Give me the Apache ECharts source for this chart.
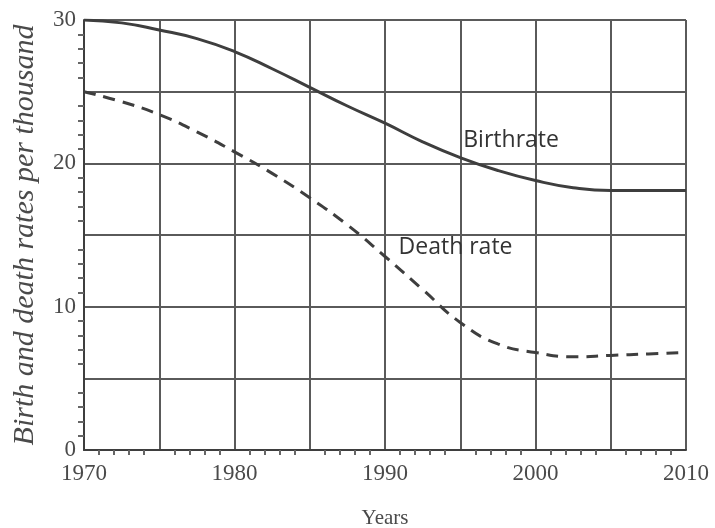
<!DOCTYPE html>
<html>
<head>
<meta charset="utf-8">
<script src="https://cdn.jsdelivr.net/npm/echarts@6/dist/echarts.min.js"></script>
<style>
html,body{margin:0;padding:0;background:#fff;}
#chart{width:715px;height:528px;}
</style>
</head>
<body>
<div id="chart"></div>
<script>
const years = [1970, 1972.5, 1975, 1977.5, 1980, 1982.5, 1985, 1987.5, 1990, 1992.5, 1995, 1997.5, 2000, 2002.5, 2005, 2007.5, 2010];
const birthRate = [30, 29.8, 29.3, 28.7, 27.8, 26.6, 25.3, 24.0, 22.8, 21.5, 20.4, 19.5, 18.8, 18.3, 18.1, 18.1, 18.1];
const deathRate = [25, 24.3, 23.4, 22.2, 20.8, 19.3, 17.6, 15.7, 13.5, 11.2, 8.9, 7.4, 6.8, 6.5, 6.6, 6.7, 6.8];
const xTicks = [1970, 1980, 1990, 2000, 2010];
const yTicks = [0, 10, 20, 30];
const labelBirth = 'Birthrate';
const labelDeath = 'Death rate';
const xTitle = 'Years';
const yTitle = 'Birth and death rates per thousand';

const chart = echarts.init(document.getElementById('chart'));
const gridCol = '#5a5a5a';
const lineCol = '#3e3e3e';
const textCol = '#4a4a4a';
chart.setOption({
  backgroundColor: '#ffffff',
  animation: false,
  grid: {left: 84, right: 29, top: 20, bottom: 78, containLabel: false, outerBoundsMode: 'none'},
  xAxis: {
    type: 'value', min: 1970, max: 2010, interval: 5,
    name: xTitle, nameLocation: 'middle', nameGap: 58,
    nameTextStyle: {fontFamily: 'Liberation Serif', fontSize: 21, color: textCol},
    axisLine: {show: true, lineStyle: {color: lineCol, width: 2}},
    axisTick: {show: false},
    minorTick: {show: true, splitNumber: 5, length: 5, lineStyle: {color: '#666', width: 2}},
    splitLine: {show: true, lineStyle: {color: gridCol, width: 2}},
    axisLabel: {
      margin: 12, fontFamily: 'Liberation Serif', fontSize: 23, color: textCol,
      formatter: v => xTicks.includes(v) ? String(v) : ''
    }
  },
  yAxis: {
    type: 'value', min: 0, max: 30, interval: 5,
    name: yTitle, nameLocation: 'middle', nameGap: 44,
    nameTextStyle: {fontFamily: 'Liberation Serif', fontStyle: 'italic', fontSize: 30, color: textCol},
    axisLine: {show: true, lineStyle: {color: lineCol, width: 2}},
    axisTick: {show: false},
    minorTick: {show: true, splitNumber: 5, length: 6, lineStyle: {color: '#666', width: 2}},
    splitLine: {show: true, lineStyle: {color: gridCol, width: 2}},
    axisLabel: {
      margin: 8, fontFamily: 'Liberation Serif', fontSize: 23, color: textCol,
      formatter: v => yTicks.includes(v) ? String(v) : ''
    }
  },
  series: [
    {
      type: 'line', smooth: true, symbol: 'none',
      data: years.map((y, i) => [y, birthRate[i]]),
      lineStyle: {color: lineCol, width: 3},
      markPoint: {
        symbol: 'circle', symbolSize: 0,
        data: [{coord: [1995.2, 21.6], label: {show: true, formatter: labelBirth, position: 'right', distance: 0,
          fontFamily: 'Open Sans', fontSize: 23, color: '#333'}}]
      }
    },
    {
      type: 'line', smooth: true, symbol: 'none',
      data: years.map((y, i) => [y, deathRate[i]]),
      lineStyle: {color: lineCol, width: 3, type: [12, 8]},
      markPoint: {
        symbol: 'circle', symbolSize: 0,
        data: [{coord: [1990.9, 14.1], label: {show: true, formatter: labelDeath, position: 'right', distance: 0,
          fontFamily: 'Open Sans', fontSize: 23, color: '#333'}}]
      }
    }
  ]
});
</script>
</body>
</html>
